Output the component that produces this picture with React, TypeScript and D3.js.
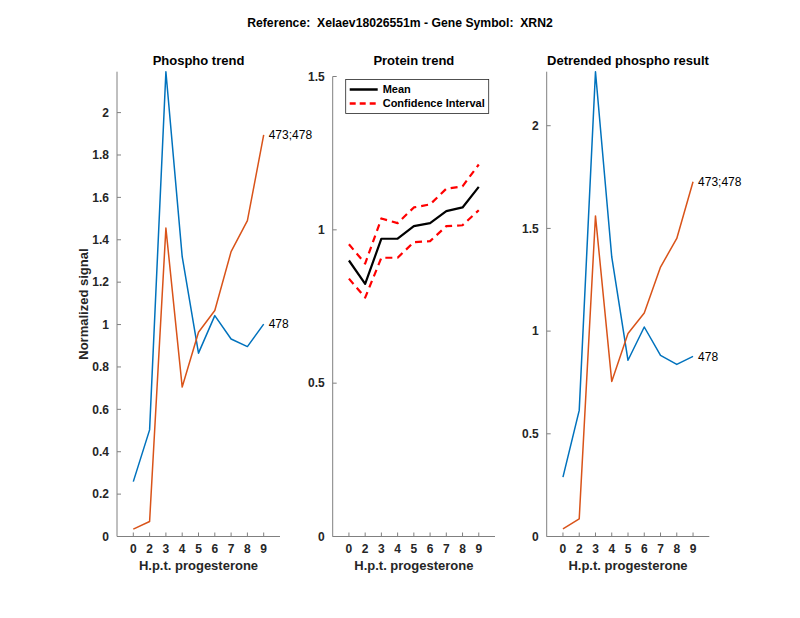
import { useEffect } from 'react';
import * as d3 from 'd3';

const hpt = ['0', '2', '3', '4', '5', '6', '7', '8', '9'];

// Phospho trend
const phosphoA = [0.259, 0.503, 2.193, 1.32, 0.865, 1.042, 0.932, 0.896, 1.002];
const phosphoB = [0.035, 0.071, 1.455, 0.705, 0.964, 1.066, 1.344, 1.49, 1.895];

// Protein trend
const proteinMean = [0.9, 0.824, 0.971, 0.971, 1.012, 1.022, 1.061, 1.073, 1.14];
const proteinUpper = [0.953, 0.89, 1.037, 1.022, 1.073, 1.083, 1.134, 1.142, 1.213];
const proteinLower = [0.841, 0.779, 0.909, 0.909, 0.96, 0.963, 1.012, 1.015, 1.064];

// Detrended phospho
const detrA = [0.289, 0.614, 2.263, 1.361, 0.858, 1.02, 0.882, 0.838, 0.877];
const detrB = [0.037, 0.086, 1.561, 0.755, 0.988, 1.088, 1.312, 1.451, 1.727];

const labelA = '478';
const labelB = '473;478';

const ticks1 = [0, 0.2, 0.4, 0.6, 0.8, 1, 1.2, 1.4, 1.6, 1.8, 2];
const ticks2 = [0, 0.5, 1, 1.5];
const ticks3 = [0, 0.5, 1, 1.5, 2];

const BLUE = '#0072BD';
const ORANGE = '#D95319';
const AXIS = '#808080';
const TXT = '#262626';
const FONT = 'Liberation Sans, Arial, Helvetica, sans-serif';
const TITLE_Y = 65;

interface Series {
  values: number[];
  color: string;
  width: number;
  dash?: string;
  label?: string;
}

interface PanelProps {
  left: number;
  right: number;
  top: number;
  bottom: number;
  yMax: number;
  yTicks: number[];
  title: string;
  series: Series[];
  ylabel?: string;
  legend?: boolean;
}

function Panel({ left, right, top, bottom, yMax, yTicks, title, series, ylabel, legend }: PanelProps) {
  const x = d3.scaleLinear().domain([0, hpt.length + 1]).range([left, right]);
  const y = d3.scaleLinear().domain([0, yMax]).range([bottom, top]);
  const line = d3
    .line<number>()
    .x((_, i) => x(i + 1))
    .y((d) => y(d));

  return (
    <g>
      <text x={(left + right) / 2} y={TITLE_Y} textAnchor="middle" fontFamily={FONT} fontWeight="bold" fontSize={13} fill="#000">
        {title}
      </text>
      {/* axes */}
      <line x1={left} x2={left} y1={top} y2={bottom} stroke={AXIS} strokeWidth={1} />
      <line x1={left} x2={right} y1={bottom} y2={bottom} stroke={AXIS} strokeWidth={1} />
      {yTicks.map((t) => (
        <g key={'y' + t}>
          <line x1={left} x2={left + 4} y1={y(t)} y2={y(t)} stroke={AXIS} />
          <text x={left - 8} y={y(t)} dy="0.35em" textAnchor="end" fontFamily={FONT} fontWeight="bold" fontSize={12} fill={TXT}>
            {String(t)}
          </text>
        </g>
      ))}
      {hpt.map((h, i) => (
        <g key={'x' + h}>
          <line x1={x(i + 1)} x2={x(i + 1)} y1={bottom} y2={bottom - 4} stroke={AXIS} />
          <text x={x(i + 1)} y={bottom + 16.5} textAnchor="middle" fontFamily={FONT} fontWeight="bold" fontSize={12} fill={TXT}>
            {h}
          </text>
        </g>
      ))}
      <text x={(left + right) / 2} y={bottom + 33.5} textAnchor="middle" fontFamily={FONT} fontWeight="bold" fontSize={13} fill={TXT}>
        H.p.t. progesterone
      </text>
      {ylabel && (
        <text
          transform={`translate(${left - 29},${(top + bottom) / 2}) rotate(-90)`}
          textAnchor="middle"
          fontFamily={FONT}
          fontWeight="bold"
          fontSize={13}
          fill={TXT}
        >
          {ylabel}
        </text>
      )}
      {series.map((s, k) => (
        <g key={k}>
          <path d={line(s.values) || ''} fill="none" stroke={s.color} strokeWidth={s.width} strokeDasharray={s.dash} strokeLinejoin="round" />
          {s.label && (
            <text
              x={x(s.values.length) + 5}
              y={y(s.values[s.values.length - 1])}
              dy="0.35em"
              fontFamily={FONT}
              fontSize={12}
              fill="#000"
            >
              {s.label}
            </text>
          )}
        </g>
      ))}
      {legend && (
        <g>
          <rect x={left + 13} y={top + 3} width={143} height={34} fill="#fff" stroke="#262626" strokeWidth={0.8} />
          <line x1={left + 17} x2={left + 45} y1={top + 13} y2={top + 13} stroke="#000" strokeWidth={2.5} />
          <text x={left + 50} y={top + 13} dy="0.35em" fontFamily={FONT} fontWeight="bold" fontSize={11} fill="#000">
            Mean
          </text>
          <line x1={left + 17} x2={left + 45} y1={top + 27} y2={top + 27} stroke="#ff0000" strokeWidth={2.5} strokeDasharray="6 4" />
          <text x={left + 50} y={top + 27} dy="0.35em" fontFamily={FONT} fontWeight="bold" fontSize={11} fill="#000">
            Confidence Interval
          </text>
        </g>
      )}
    </g>
  );
}

export default function App() {
  useEffect(() => {
    document.body.style.margin = '0';
  }, []);

  return (
    <svg width={800} height={618} style={{ display: 'block', background: '#fff' }}>
      <text x={400} y={27} textAnchor="middle" fontFamily={FONT} fontWeight="bold" fontSize={12.2} fill="#000" xmlSpace="preserve">
        {'Reference:  Xelaev18026551m - Gene Symbol:  XRN2'}
      </text>
      <Panel
        left={117}
        right={280}
        top={71.7}
        bottom={536.5}
        yMax={2.193}
        yTicks={ticks1}
        title="Phospho trend"
        ylabel="Normalized signal"
        series={[
          { values: phosphoA, color: BLUE, width: 1.5, label: labelA },
          { values: phosphoB, color: ORANGE, width: 1.5, label: labelB },
        ]}
      />
      <Panel
        left={332.7}
        right={495}
        top={76.5}
        bottom={536.5}
        yMax={1.5}
        yTicks={ticks2}
        title="Protein trend"
        legend
        series={[
          { values: proteinUpper, color: '#ff0000', width: 2.2, dash: '7 5' },
          { values: proteinLower, color: '#ff0000', width: 2.2, dash: '7 5' },
          { values: proteinMean, color: '#000', width: 2.2 },
        ]}
      />
      <Panel
        left={546.7}
        right={709.3}
        top={71.7}
        bottom={536.5}
        yMax={2.263}
        yTicks={ticks3}
        title="Detrended phospho result"
        series={[
          { values: detrA, color: BLUE, width: 1.5, label: labelA },
          { values: detrB, color: ORANGE, width: 1.5, label: labelB },
        ]}
      />
    </svg>
  );
}
